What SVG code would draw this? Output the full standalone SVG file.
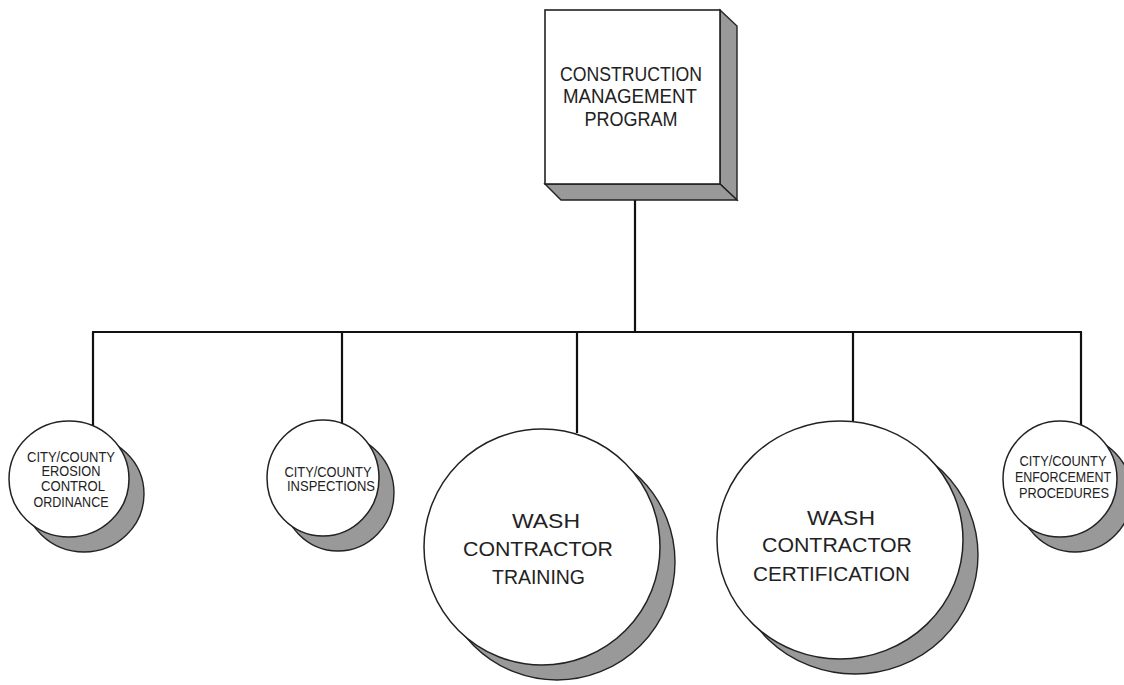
<svg xmlns="http://www.w3.org/2000/svg" width="1124" height="685" viewBox="0 0 1124 685">
<style>
.bg{fill:#fff}
.face{fill:#fff;stroke:#222;stroke-width:1.6}
.side{fill:#999;stroke:#222;stroke-width:1.4}
.shadow{fill:#999;stroke:#222;stroke-width:1.4}
.disc{fill:#fff;stroke:#222;stroke-width:1.5}
.conn{fill:none;stroke:#111;stroke-width:2.2}
text{font-family:"Liberation Sans",Arial,sans-serif;fill:#222;text-anchor:middle}
.big{font-size:20px}
.box{font-size:21px}
.small{font-size:14px}
</style>
<rect class="bg" width="1124" height="685"/>
<g id="connectors">
<line class="conn" x1="635" y1="199" x2="635" y2="332"/>
<line class="conn" x1="92" y1="332" x2="1082" y2="332"/>
<line class="conn" x1="93" y1="332" x2="93" y2="426"/>
<line class="conn" x1="342" y1="332" x2="342" y2="423"/>
<line class="conn" x1="577" y1="332" x2="577" y2="433"/>
<line class="conn" x1="853" y1="332" x2="853" y2="422"/>
<line class="conn" x1="1081" y1="332" x2="1081" y2="425"/>
</g>
<g id="node-cmp">
<polygon class="side" points="720,10 737,26 737,200 720,184"/>
<polygon class="side" points="545,184 561,200 737,200 720,184"/>
<rect class="face" x="545" y="10" width="175" height="174"/>
<text class="box" x="631" y="81" textLength="142" lengthAdjust="spacingAndGlyphs">CONSTRUCTION</text>
<text class="box" x="630" y="103" textLength="134" lengthAdjust="spacingAndGlyphs">MANAGEMENT</text>
<text class="box" x="631" y="126" textLength="93" lengthAdjust="spacingAndGlyphs">PROGRAM</text>
</g>
<g id="node-ordinance">
<ellipse class="shadow" cx="84" cy="494" rx="60" ry="58"/>
<ellipse class="disc" cx="69" cy="479" rx="60" ry="58"/>
<text class="small" x="71" y="462" textLength="88" lengthAdjust="spacingAndGlyphs">CITY/COUNTY</text>
<text class="small" x="71" y="476" textLength="59" lengthAdjust="spacingAndGlyphs">EROSION</text>
<text class="small" x="73" y="491" textLength="64" lengthAdjust="spacingAndGlyphs">CONTROL</text>
<text class="small" x="71" y="507" textLength="75" lengthAdjust="spacingAndGlyphs">ORDINANCE</text>
</g>
<g id="node-inspections">
<ellipse class="shadow" cx="338" cy="493" rx="56" ry="58"/>
<ellipse class="disc" cx="323" cy="478" rx="56" ry="58"/>
<text class="small" x="328" y="477" textLength="87" lengthAdjust="spacingAndGlyphs">CITY/COUNTY</text>
<text class="small" x="331" y="491" textLength="88" lengthAdjust="spacingAndGlyphs">INSPECTIONS</text>
</g>
<g id="node-training">
<circle class="shadow" cx="557" cy="562" r="118"/>
<circle class="disc" cx="542" cy="547" r="118"/>
<text class="big" x="546" y="528" textLength="68" lengthAdjust="spacingAndGlyphs">WASH</text>
<text class="big" x="538" y="556" textLength="150" lengthAdjust="spacingAndGlyphs">CONTRACTOR</text>
<text class="big" x="538.5" y="584" textLength="93" lengthAdjust="spacingAndGlyphs">TRAINING</text>
</g>
<g id="node-certification">
<ellipse class="shadow" cx="855" cy="555" rx="123" ry="119"/>
<ellipse class="disc" cx="840" cy="540" rx="123" ry="119"/>
<text class="big" x="841" y="525" textLength="68" lengthAdjust="spacingAndGlyphs">WASH</text>
<text class="big" x="837" y="552" textLength="150" lengthAdjust="spacingAndGlyphs">CONTRACTOR</text>
<text class="big" x="831.5" y="581" textLength="157" lengthAdjust="spacingAndGlyphs">CERTIFICATION</text>
</g>
<g id="node-enforcement">
<ellipse class="shadow" cx="1075" cy="494" rx="57" ry="58"/>
<ellipse class="disc" cx="1060" cy="479" rx="57" ry="58"/>
<text class="small" x="1063" y="466" textLength="87" lengthAdjust="spacingAndGlyphs">CITY/COUNTY</text>
<text class="small" x="1063" y="482" textLength="96" lengthAdjust="spacingAndGlyphs">ENFORCEMENT</text>
<text class="small" x="1064" y="498" textLength="90" lengthAdjust="spacingAndGlyphs">PROCEDURES</text>
</g>
</svg>
